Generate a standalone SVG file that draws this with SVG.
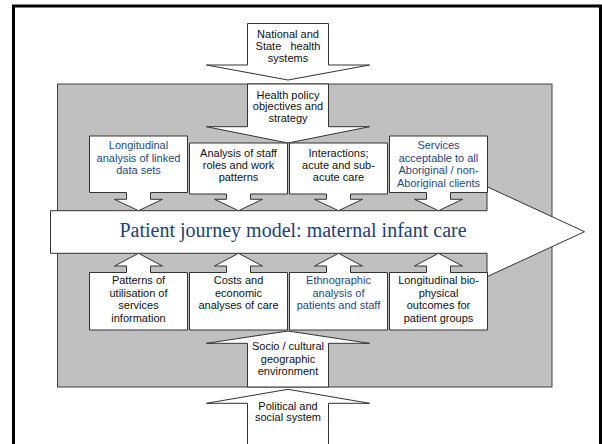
<svg xmlns="http://www.w3.org/2000/svg" width="602" height="444" viewBox="0 0 602 444">
<style>
.sh{fill:#fff;stroke:#333;stroke-width:1;stroke-linejoin:miter}
.t{font-family:"Liberation Sans",Arial,sans-serif;font-size:11px;fill:#111;text-anchor:middle}
.b{fill:#1F497D}
.pj{font-family:"Liberation Serif","Times New Roman",serif;font-size:20px;fill:#1F3F73;text-anchor:middle}
</style>
<rect x="13.5" y="6" width="587" height="450" fill="none" stroke="#000" stroke-width="3"/>
<rect id="context" x="57.5" y="84" width="494.5" height="303" fill="#C0C0C0" stroke="#404040" stroke-width="1"/>

<g id="national">
<path class="sh" d="M247.5,23.5 H328.5 V65 H369.5 L288,80 L206.5,65 H247.5 Z"/>
<text class="t" x="288" y="37.5">National and</text>
<text class="t" x="288" y="49.5" xml:space="preserve">State   health</text>
<text class="t" x="288" y="61.5">systems</text>
</g>

<g id="political">
<path class="sh" d="M247.5,450 V403.3 H206.5 L288,389.3 L369.5,403.3 H328.5 V450 Z"/>
<text class="t" x="288" y="409.5">Political and</text>
<text class="t" x="288" y="421">social system</text>
</g>

<g id="health-policy">
<path class="sh" d="M247.5,84 H328.5 V126.7 H369.5 L288,143 L206.5,126.7 H247.5 Z"/>
<text class="t" x="288" y="98.5">Health policy</text>
<text class="t" x="288" y="110.3">objectives and</text>
<text class="t" x="288" y="122">strategy</text>
</g>

<g id="socio">
<path class="sh" d="M247.5,387 V343.3 H206.5 L288,331 L369.5,343.3 H328.5 V387 Z"/>
<text class="t" x="288" y="349.5">Socio / cultural</text>
<text class="t" x="288" y="362.5">geographic</text>
<text class="t" x="288" y="374.5">environment</text>
</g>

<g id="patient-journey">
<path class="sh" d="M50.5,210.7 H487 V186.7 L584.5,231.7 L487,276.7 V253.3 H50.5 Z"/>
<text class="pj" x="293" y="236.5">Patient journey model: maternal infant care</text>
</g>

<g id="linked-data">
<path class="sh" d="M89.5,136 H187.5 V192.5 H150.5 V199.3 H162.5 L138.5,210.7 L114.5,199.3 H126.5 V192.5 H89.5 Z"/>
<text class="t b" x="138.5" y="149">Longitudinal</text>
<text class="t b" x="138.5" y="161.5">analysis of linked</text>
<text class="t b" x="138.5" y="174">data sets</text>
</g>

<g id="staff-roles">
<path class="sh" d="M189.5,143 H287.5 V194 H250.5 V199.3 H262.5 L238.5,210.7 L214.5,199.3 H226.5 V194 H189.5 Z"/>
<text class="t" x="238.5" y="156.5">Analysis of staff</text>
<text class="t" x="238.5" y="168.8">roles and work</text>
<text class="t" x="238.5" y="181">patterns</text>
</g>

<g id="interactions">
<path class="sh" d="M289.5,143 H387.5 V194 H350.5 V199.3 H362.5 L338.5,210.7 L314.5,199.3 H326.5 V194 H289.5 Z"/>
<text class="t" x="338.5" y="156.5">Interactions;</text>
<text class="t" x="338.5" y="168.8">acute and sub-</text>
<text class="t" x="338.5" y="181">acute care</text>
</g>

<g id="services">
<path class="sh" d="M389.5,136 H487.5 V192.5 H450.5 V199.3 H462.5 L438.5,210.7 L414.5,199.3 H426.5 V192.5 H389.5 Z"/>
<text class="t b" x="438.5" y="149">Services</text>
<text class="t b" x="438.5" y="161.5">acceptable to all</text>
<text class="t b" x="438.5" y="174">Aboriginal / non-</text>
<text class="t b" x="438.5" y="186.5">Aboriginal clients</text>
</g>

<g id="utilisation">
<path class="sh" d="M89.5,330 H187.5 V272.5 H150.5 V266 H162.5 L138.5,253.3 L114.5,266 H126.5 V272.5 H89.5 Z"/>
<text class="t" x="138.5" y="284">Patterns of</text>
<text class="t" x="138.5" y="297.3">utilisation of</text>
<text class="t" x="138.5" y="309.3">services</text>
<text class="t" x="138.5" y="321.7">information</text>
</g>

<g id="costs">
<path class="sh" d="M189.5,330 H287.5 V272.5 H250.5 V266 H262.5 L238.5,253.3 L214.5,266 H226.5 V272.5 H189.5 Z"/>
<text class="t" x="238.5" y="284">Costs and</text>
<text class="t" x="238.5" y="297.3">economic</text>
<text class="t" x="238.5" y="309.3">analyses of care</text>
</g>

<g id="ethnographic">
<path class="sh" d="M289.5,330 H387.5 V272.5 H350.5 V266 H362.5 L338.5,253.3 L314.5,266 H326.5 V272.5 H289.5 Z"/>
<text class="t b" x="338.5" y="284">Ethnographic</text>
<text class="t b" x="338.5" y="297.3">analysis of</text>
<text class="t b" x="338.5" y="309.3">patients and staff</text>
</g>

<g id="outcomes">
<path class="sh" d="M389.5,330 H487.5 V272.5 H450.5 V266 H462.5 L438.5,253.3 L414.5,266 H426.5 V272.5 H389.5 Z"/>
<text class="t" x="438.5" y="284">Longitudinal bio-</text>
<text class="t" x="438.5" y="297.3">physical</text>
<text class="t" x="438.5" y="309.3">outcomes for</text>
<text class="t" x="438.5" y="321.7">patient groups</text>
</g>
</svg>
